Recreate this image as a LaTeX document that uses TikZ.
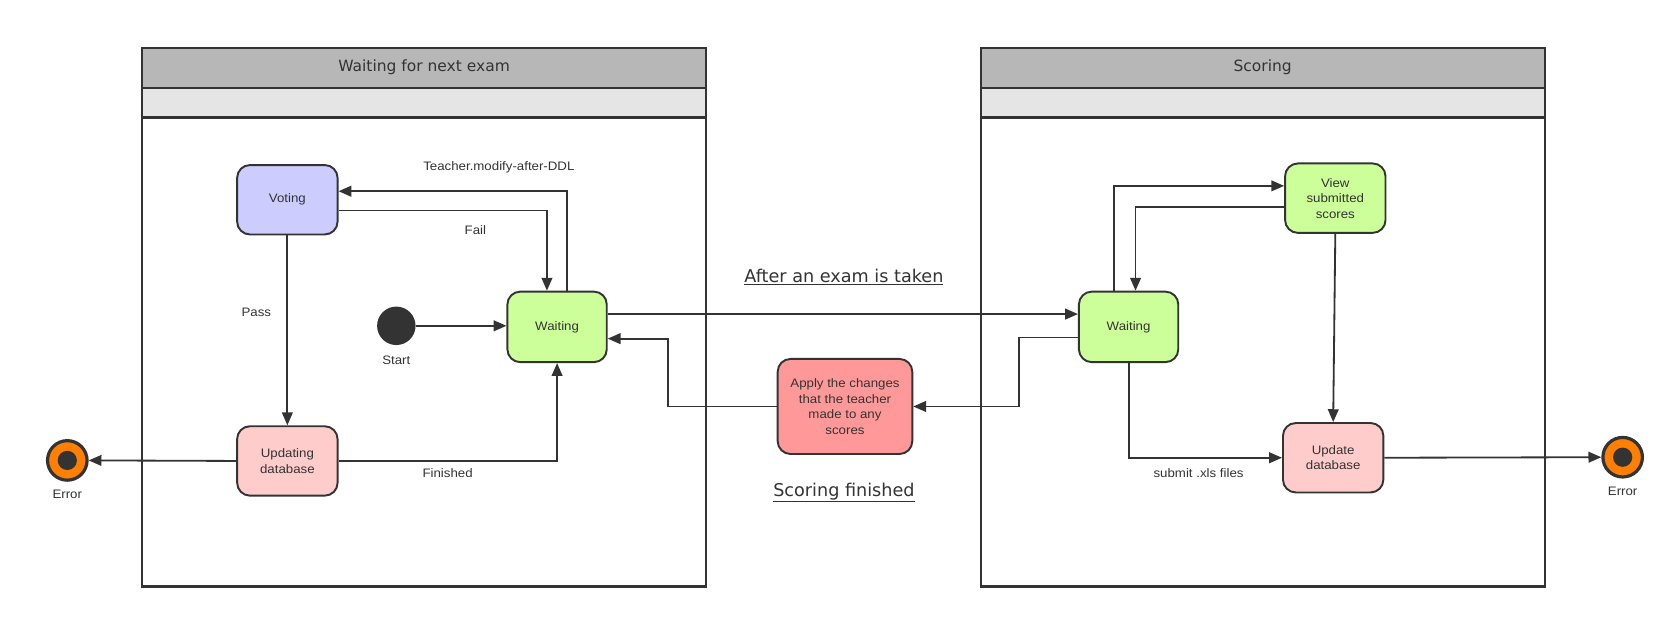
\documentclass[tikz,border=0pt]{standalone}
\usepackage{fontspec}
\setmainfont{Liberation Sans}[FakeStretch=1.08]
\newfontfamily\titlefont{DejaVu Sans}
\usepackage{xcolor}
\usepackage{tikz}
\usetikzlibrary{arrows.meta}
\usetikzlibrary{positioning}

\definecolor{edgegray}{HTML}{333333}
\definecolor{headgray}{HTML}{B7B7B7}
\definecolor{bandgray}{HTML}{E5E5E5}
\definecolor{votecol}{HTML}{CCCCFF}
\definecolor{updcol}{HTML}{FFCCCC}
\definecolor{waitcol}{HTML}{CCFF99}
\definecolor{applycol}{HTML}{FF9999}
\definecolor{errcol}{HTML}{FF7F00}

\begin{document}
\begin{tikzpicture}[x=1pt,y=-1pt,>={Triangle[length=12pt,width=10pt]},
  font=\fontsize{11.5}{14.5}\selectfont, text=edgegray]
	\tikzstyle{state}=[draw=edgegray, line width=1.8pt, rounded corners=12pt, minimum width=94pt, minimum height=65pt, align=center, inner sep=2pt]
	\tikzstyle{trans}=[draw=edgegray, line width=1.7pt, ->]
	\tikzstyle{frame}=[draw=edgegray, line width=2pt]
	\tikzstyle{title}=[font=\titlefont\fontsize{14.5}{17}\selectfont]
	\tikzstyle{bigtext}=[font=\titlefont\fontsize{16.5}{20}\selectfont]
	\tikzstyle{final}=[draw=edgegray, line width=3pt, circle, fill=errcol, minimum size=37pt, inner sep=0pt]
	\tikzstyle{dot}=[circle, fill=edgegray, minimum size=18pt, inner sep=0pt]
	\useasboundingbox (0,0) rectangle (1568,580.4);

	% containers
	\draw[frame] (133,45) rectangle (661,549);
	\filldraw[frame, fill=headgray] (133,45) rectangle (661,82);
	\filldraw[frame, fill=bandgray] (133,82) rectangle (661,110);
	\node[title] (waitexam) at (397,63) {Waiting for next exam};

	\draw[frame] (918,45) rectangle (1446,549);
	\filldraw[frame, fill=headgray] (918,45) rectangle (1446,82);
	\filldraw[frame, fill=bandgray] (918,82) rectangle (1446,110);
	\node[title] (scoring) at (1182,63) {Scoring};

	% states
	\node[state, fill=votecol] (voting) at (269,187) {Voting};
	\node[state, fill=updcol] (updating) at (269,431.5) {Updating\\database};
	\node[state, fill=waitcol, minimum width=93pt, minimum height=66pt] (waitL) at (521.5,306) {Waiting};
	\node[circle, fill=edgegray, minimum size=36pt, inner sep=0pt, label={[label distance=6pt]below:Start}] (start) at (371,305) {};
	\node[final, label={[label distance=4pt]below:Error}] (errL) at (63,431) {};
	\node[dot] (errLdot) at (errL) {};

	\node[state, fill=applycol, minimum width=126pt, minimum height=89pt] (apply) at (791,380.5) {Apply the changes\\that the teacher\\made to any\\scores};

	\node[state, fill=waitcol, minimum width=93pt, minimum height=66pt] (waitR) at (1056.5,306) {Waiting};
	\node[state, fill=waitcol] (view) at (1250,185.5) {View\\submitted\\scores};
	\node[state, fill=updcol] (update) at (1248,428.5) {Update\\database};
	\node[final, label={[label distance=4pt]below:Error}] (errR) at (1519,428) {};
	\node[dot] (errRdot) at (errR) {};

	% transitions
	\draw[trans] ([yshift=-10pt]voting.east) -| ([xshift=-9.5pt]waitL.north);
	\draw[trans] ([xshift=9.5pt]waitL.north) |- ([yshift=8pt]voting.east);
	\draw[trans] (voting.south) -- (updating.north);
	\draw[trans] (start.east) -- (start.east -| waitL.west);
	\draw[trans] (updating.east) -| (waitL.south);
	\draw[trans] (updating.west) -- (errL.east);
	\draw[trans] ([yshift=12pt]waitL.east) -- ([yshift=12pt]waitR.west);
	\draw[trans] ([yshift=-10pt]waitR.west) -- ++(-55,0) |- (apply.east);
	\draw[trans] (apply.west) -- ++(-102,0) |- ([yshift=-11pt]waitL.east);
	\draw[trans] ([xshift=-13.5pt]waitR.north) |- ([yshift=11.5pt]view.west);
	\draw[trans] ([yshift=-8.5pt]view.west) -| ([xshift=6.5pt]waitR.north);
	\draw[trans] (view.south) -- (update.north);
	\draw[trans] (waitR.south) |- (update.west);
	\draw[trans] (update.east) -- (errR.west);

	% labels
	\node (teacher) at (467,157) {Teacher.modify-after-DDL};
	\node (fail) at (445,215) {Fail};
	\node (pass) at (240,292) {Pass};
	\node (finished) at (419,443) {Finished};
	\node (submit) at (1122,443) {submit .xls files};
	\node[bigtext] (taken) at (790,259) {\underline{After an exam is taken}};
	\node[bigtext] (scored) at (790,461) {\underline{Scoring finished}};
\end{tikzpicture}
\end{document}
